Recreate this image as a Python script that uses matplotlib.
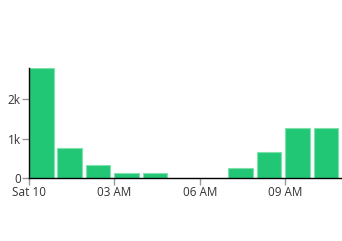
import matplotlib.pyplot as plt

# hourly counts, Sat 10 00:00 .. 10:00
hours = [0, 1, 2, 3, 4, 5, 6, 7, 8, 9, 10]
counts = [2800, 750, 320, 125, 125, 0, 0, 260, 650, 1260, 1260]
tick_pos = [0, 3, 6, 9]
tick_labels = ['Sat 10', '03 AM', '06 AM', '09 AM']

plt.rcParams['font.family'] = ['Open Sans', 'DejaVu Sans']

fig = plt.figure(figsize=(3.42, 2.41), dpi=100)
ax = fig.add_axes([29 / 342, 63 / 241, 312 / 342, 110.3 / 241])

ax.bar(hours, counts, width=0.86, align='edge', color='#22c776',
       edgecolor='#7ee0ac', linewidth=0.8)

ax.set_xlim(0, 10.95)
ax.set_ylim(0, 2800)
ax.set_xticks(tick_pos)
ax.set_xticklabels(tick_labels)
ax.set_yticks([0, 1000, 2000])
ax.set_yticklabels(['0', '1k', '2k'])

for s in ['top', 'right']:
    ax.spines[s].set_visible(False)
for s in ['left', 'bottom']:
    ax.spines[s].set_color('black')
    ax.spines[s].set_linewidth(1)
ax.tick_params(axis='both', colors='#999999', length=5, width=1,
               labelcolor='#333333', labelsize=8.5, pad=1)

fig.savefig('out.png', dpi=100)
